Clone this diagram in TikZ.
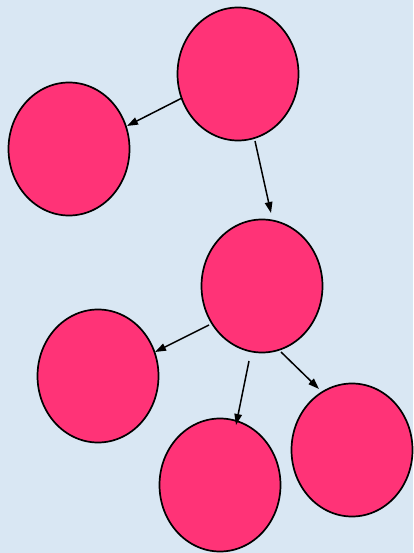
\documentclass[tikz,border=0pt]{standalone}
\usetikzlibrary{shapes.geometric,arrows.meta}
\definecolor{bgblue}{HTML}{D9E7F3}
\definecolor{pinkfill}{HTML}{FF3377}
\begin{document}
\begin{tikzpicture}[x=1pt,y=-1pt,
  blob/.style={ellipse,draw=black,line width=1.7pt,fill=pinkfill,minimum width=121pt,minimum height=133pt,inner sep=0pt},
  conn/.style={line width=1.5pt,-{Triangle[length=11pt,width=7.5pt]}}]
\fill[bgblue] (0,0) rectangle (413,553);
\useasboundingbox (0,0) rectangle (413,553);
\node[blob] (top) at (238,74) {};
\node[blob] (left) at (69,149) {};
\node[blob] (mid) at (262,286) {};
\node[blob] (lowleft) at (98,376) {};
\node[blob] (bottom) at (220,485) {};
\node[blob] (right) at (352,450) {};
\coordinate (a1start) at (182,98);
\coordinate (a1end) at (127,126);
\coordinate (a2start) at (255,141);
\coordinate (a2end) at (271,213);
\coordinate (a3start) at (209,325);
\coordinate (a3end) at (155,352);
\coordinate (a4start) at (249,361);
\coordinate (a4end) at (236,425);
\coordinate (a5start) at (281,352);
\coordinate (a5end) at (319,389);
\draw[conn] (a1start) -- (a1end);
\draw[conn] (a2start) -- (a2end);
\draw[conn] (a3start) -- (a3end);
\draw[conn] (a4start) -- (a4end);
\draw[conn] (a5start) -- (a5end);
\end{tikzpicture}
\end{document}
